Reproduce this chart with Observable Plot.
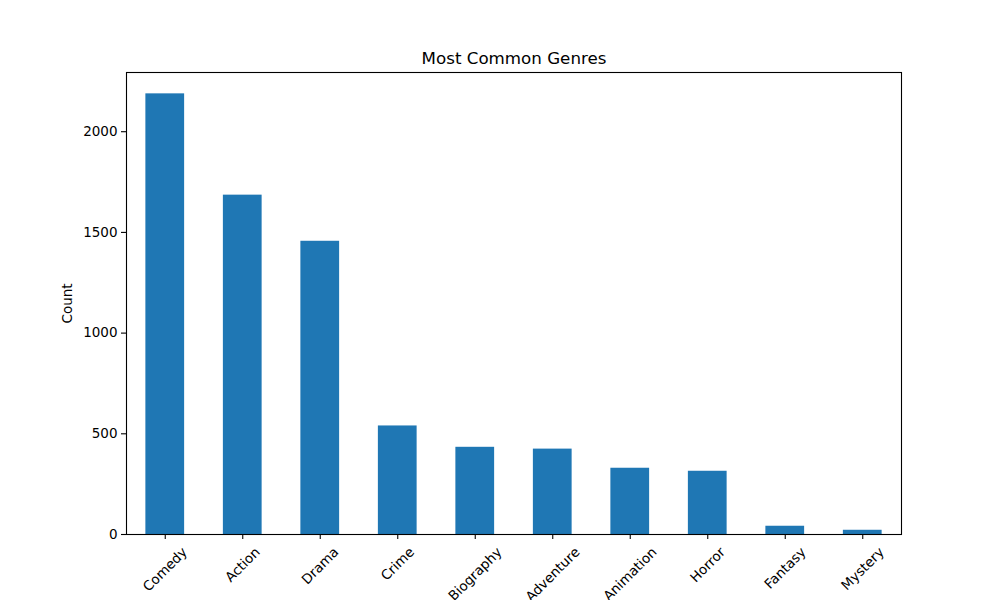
<!DOCTYPE html>
<html>
<head>
<meta charset="utf-8">
<script src="https://cdn.jsdelivr.net/npm/d3@7"></script>
<script src="https://cdn.jsdelivr.net/npm/@observablehq/plot@0.6"></script>
<style>
  html, body { margin: 0; padding: 0; background: #fff; }
</style>
</head>
<body>
<div id="chart"></div>
<script>
const genres = ["Comedy", "Action", "Drama", "Crime", "Biography", "Adventure", "Animation", "Horror", "Fantasy", "Mystery"];
const counts = [2188, 1685, 1456, 539, 433, 424, 329, 314, 41, 21];
const yTicks = [0, 500, 1000, 1500, 2000];
const title = "Most Common Genres";
const yLabel = "Count";

const data = genres.map((g, i) => ({genre: g, count: counts[i]}));
const FONT = "DejaVu Sans, sans-serif";
const FS = 13.5;

// measure label lengths to place rotated labels like matplotlib (centered bbox under tick)
const ctx = document.createElement("canvas").getContext("2d");
ctx.font = `${FS}px "DejaVu Sans"`;
const H = FS * 1.17, pad = 9.8;
const labelMarks = genres.map(g => {
  const L = ctx.measureText(g).width;
  const off = pad + (L + H) / (2 * Math.SQRT2);
  return Plot.text([g], {x: d => d, frameAnchor: "bottom", dy: off, rotate: -45, textAnchor: "middle", lineAnchor: "middle", fontSize: FS, fill: "black"});
});

const chart = Plot.plot({
  width: 1000,
  height: 600,
  marginLeft: 126,
  marginRight: 99,
  marginTop: 72,
  marginBottom: 66,
  style: {fontFamily: FONT, fontSize: FS + "px", color: "black", background: "white", overflow: "visible"},
  x: {type: "band", domain: genres, paddingInner: 0.5, paddingOuter: 0.25, align: 0.5, round: false},
  y: {domain: [0, 2294]},
  marks: [
    Plot.barY(data, {x: "genre", y: "count", fill: "#1f77b4"}),
    Plot.frame({stroke: "black", strokeWidth: 1.1}),
    Plot.axisY({ticks: yTicks, tickFormat: d3.format("d"), tickSize: 5, tickPadding: 4, label: null, fontSize: FS, strokeWidth: 1.1}),
    Plot.axisX({tickSize: 5, fill: "none", label: null, strokeWidth: 1.1}),
    ...labelMarks,
    Plot.text([title], {frameAnchor: "top", dy: -8.3, lineAnchor: "bottom", fontSize: 16.7, fill: "black"}),
    Plot.text([yLabel], {frameAnchor: "left", dx: -58.7, rotate: -90, lineAnchor: "middle", textAnchor: "middle", fontSize: FS, fill: "black"})
  ]
});
document.getElementById("chart").appendChild(chart);
</script>
</body>
</html>
